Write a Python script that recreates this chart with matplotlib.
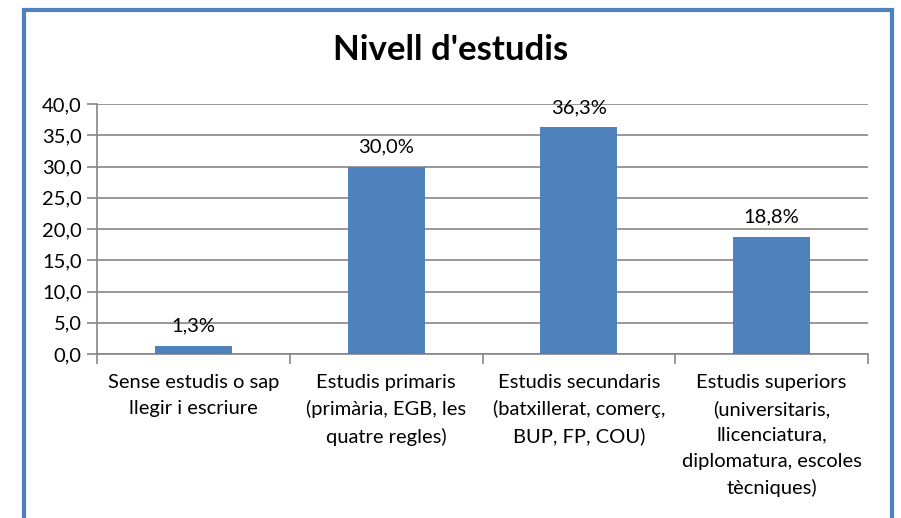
import matplotlib.pyplot as plt
from matplotlib.patches import Rectangle
import numpy as np

categories = ['Sense estudis o sap\nllegir i escriure',
              'Estudis primaris\n(primària, EGB, les\nquatre regles)',
              'Estudis secundaris\n(batxillerat, comerç,\nBUP, FP, COU)',
              'Estudis superiors\n(universitaris,\nllicenciatura,\ndiplomatura, escoles\ntècniques)']
values = [1.3, 30.0, 36.3, 18.8]
yticks = [0, 5, 10, 15, 20, 25, 30, 35, 40]

plt.rcParams['font.family'] = ['Lato', 'DejaVu Sans']
blue = '#4F81BD'
gray = '#868686'
fs = 14.5

fig = plt.figure(figsize=(9.01, 5.18), dpi=100)
# outer chart border
fig.patches.append(Rectangle((24/901, -0.05), 868/901, 1 - 10/518 + 0.05,
                             transform=fig.transFigure, fill=False,
                             edgecolor=blue, linewidth=3))
fig.text(0.5, 1 - 50/518, "Nivell d'estudis", ha='center', va='center',
         fontsize=25, fontweight='bold')

ax = fig.add_axes([97/901, 1 - 354/518, 771/901, 250/518])
x = np.arange(len(values))
ax.bar(x, values, width=0.4, color=blue, zorder=3)
for xi, v in zip(x, values):
    ax.text(xi, v + 1.8, ('%.1f%%' % v).replace('.', ','), ha='center',
            va='bottom', fontsize=fs)

ax.set_xlim(-0.5, len(values) - 0.5)
ax.set_ylim(0, 40)
ax.set_yticks(yticks)
ax.set_yticklabels([('%.1f' % t).replace('.', ',') for t in yticks], fontsize=fs)
ax.yaxis.grid(True, color=gray, linewidth=1.2, zorder=0)

ax.set_xticks(np.arange(len(values) + 1) - 0.5)
ax.set_xticklabels([])
ax.tick_params(axis='x', length=7, color=gray, width=1.2)
ax.tick_params(axis='y', length=7, color=gray, width=1.2, pad=4)
for xi, c in zip(x, categories):
    ax.text(xi, -0.08, c, transform=ax.get_xaxis_transform(), ha='center',
            va='top', fontsize=fs, linespacing=1.62)

for s in ['top', 'right']:
    ax.spines[s].set_visible(False)
for s in ['left', 'bottom']:
    ax.spines[s].set_color(gray)
    ax.spines[s].set_linewidth(1.2)

plt.savefig('out.png', dpi=100)
